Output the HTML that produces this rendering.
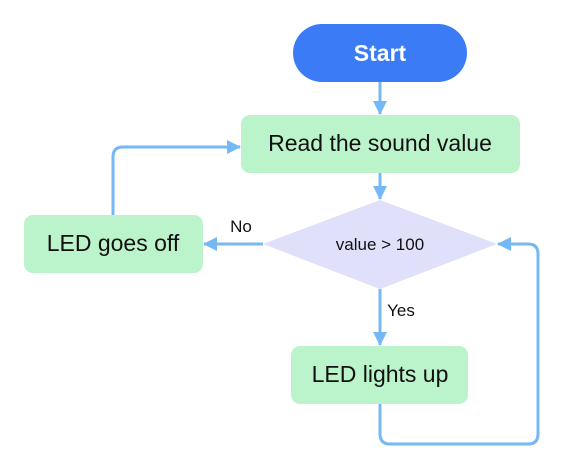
<!DOCTYPE html>
<html><head><meta charset="utf-8"><style>
body{margin:0;background:#fff;}
svg{display:block;font-family:"Liberation Sans","DejaVu Sans",sans-serif;}
</style></head><body>
<svg width="567" height="475" viewBox="0 0 567 475">
<defs><marker id="ah" markerWidth="14" markerHeight="14" refX="13" refY="7" orient="auto" markerUnits="userSpaceOnUse" viewBox="0 0 14 14"><path d="M0,0 L14,7 L0,14 z" fill="#74b8f5"/></marker></defs>
<g fill="none" stroke="#74b8f5" stroke-width="3">
<path d="M380,82 V114" marker-end="url(#ah)"/>
<path d="M380,173 V199" marker-end="url(#ah)"/>
<path d="M263,244 H204" marker-end="url(#ah)"/>
<path d="M380,289 V345" marker-end="url(#ah)"/>
<path d="M113,215 V157 Q113,147 123,147 H240" marker-end="url(#ah)"/>
<path d="M380,404 V434 Q380,444 390,444 H528 Q538,444 538,434 V254 Q538,244 528,244 H498" marker-end="url(#ah)"/>
</g>
<rect x="293" y="24" width="174" height="58" rx="29" fill="#3b7cf6"/>
<text x="380" y="61" text-anchor="middle" font-size="23" font-weight="bold" fill="#fff">Start</text>
<rect x="241" y="115" width="279" height="58" rx="9" fill="#bbf3ca"/>
<text x="380" y="151" text-anchor="middle" font-size="23" fill="#111">Read the sound value</text>
<polygon points="380,200 497,244 380,289 263,244" fill="#e0e0fb"/>
<text x="380" y="250" text-anchor="middle" font-size="17" fill="#111">value &gt; 100</text>
<rect x="24" y="215" width="179" height="58" rx="9" fill="#bbf3ca"/>
<text x="113" y="251" text-anchor="middle" font-size="23" fill="#111">LED goes off</text>
<rect x="291" y="346" width="177" height="58" rx="9" fill="#bbf3ca"/>
<text x="380" y="382" text-anchor="middle" font-size="23" fill="#111">LED lights up</text>
<text x="241" y="232" text-anchor="middle" font-size="17" fill="#111">No</text>
<text x="401" y="316" text-anchor="middle" font-size="17" fill="#111">Yes</text>
</svg>
</body></html>
